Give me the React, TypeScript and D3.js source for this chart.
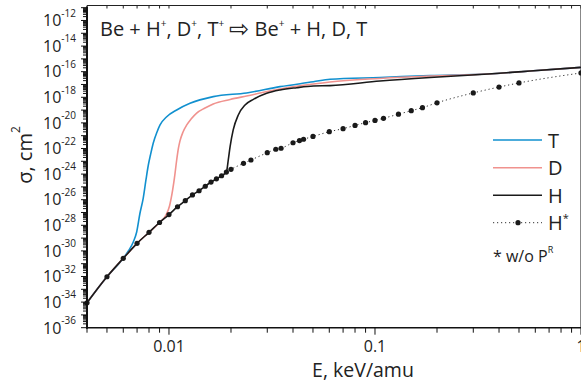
import * as d3 from 'd3'

// H* (without P^R): energies in keV/amu, log10 of cross section in cm^2
const E_HSTAR = [0.004, 0.005, 0.006, 0.007, 0.008, 0.009, 0.01, 0.011, 0.012, 0.013, 0.014, 0.015, 0.016, 0.017, 0.018, 0.019, 0.02, 0.023, 0.025, 0.03, 0.033, 0.035, 0.04, 0.043, 0.045, 0.05, 0.06, 0.07, 0.08, 0.09, 0.1, 0.11, 0.13, 0.15, 0.17, 0.2, 0.3, 0.4, 0.5, 1]
const LOG_HSTAR = [-34.05, -32.02, -30.58, -29.41, -28.55, -27.78, -27.16, -26.55, -26.08, -25.63, -25.3, -24.95, -24.62, -24.37, -24.13, -23.84, -23.63, -23.16, -22.9, -22.33, -22.06, -21.98, -21.55, -21.38, -21.28, -21.06, -20.69, -20.45, -20.2, -19.98, -19.81, -19.64, -19.32, -19.05, -18.81, -18.43, -17.66, -17.2, -16.88, -16.1]

// parts where T, D, H leave the H* curve
const E_T = [0.00635, 0.00671, 0.00697, 0.00723, 0.0075, 0.00773, 0.00794, 0.00813, 0.00839, 0.00875, 0.00905, 0.00975, 0.0109, 0.01265, 0.0164, 0.0238, 0.0346, 0.0502, 0.0605, 0.1057, 0.185, 0.354, 0.566, 1]
const LOG_T = [-30.01, -29.3, -28.52, -27.06, -25.87, -24.46, -23.29, -22.51, -21.57, -20.71, -20.16, -19.52, -18.99, -18.47, -17.95, -17.66, -17.17, -16.79, -16.59, -16.45, -16.3, -16.18, -15.95, -15.66]
const E_D = [0.00967, 0.01006, 0.01042, 0.01063, 0.0109, 0.01112, 0.01131, 0.0117, 0.0122, 0.0128, 0.01363, 0.01496, 0.0164, 0.0198, 0.0238, 0.0346, 0.0502, 0.0605, 0.1057, 0.185, 0.354, 0.566, 1]
const LOG_D = [-27.2, -26.49, -25.24, -24.3, -22.9, -21.96, -21.41, -20.71, -20.16, -19.7, -19.23, -18.84, -18.52, -18.17, -17.9, -17.35, -16.96, -16.8, -16.53, -16.34, -16.18, -15.95, -15.66]
const E_H = [0.0194, 0.0198, 0.0205, 0.0217, 0.0234, 0.0257, 0.0298, 0.0346, 0.0417, 0.0502, 0.0605, 0.1057, 0.185, 0.354, 0.566, 1]
const LOG_H = [-22.9, -21.86, -20.55, -19.38, -18.6, -18.16, -17.69, -17.43, -17.25, -17.12, -17.09, -16.73, -16.45, -16.18, -15.95, -15.66]

const Y_EXPS = [-12, -14, -16, -18, -20, -22, -24, -26, -28, -30, -32, -34, -36]
const X_TICKS = [0.01, 0.1, 1]
const X_LABELS = ['0.01', '0.1', '1']

const COLORS = { T: '#1190cf', D: '#f0928e', H: '#1a1a1a' }
const FONT = 'Open Sans, sans-serif'

type Pt = [number, number]

const join = (upTo: number, es: number[], ls: number[]): Pt[] => {
  const base: Pt[] = E_HSTAR.map((e, i) => [e, LOG_HSTAR[i]] as Pt).filter(d => d[0] <= upTo)
  return base.concat(es.map((e, i) => [e, ls[i]] as Pt))
}

export default function App() {
  const W = 581, H = 383
  const pad = { l: 87, r: 581, t: 5.5, b: 327.7 }
  const x = d3.scaleLog().domain([0.004, 1]).range([pad.l, pad.r])
  const yExp = d3.scaleLinear().domain([-36, -10.83]).range([pad.b, pad.t])

  const line = d3.line<Pt>().x(d => x(d[0])).y(d => yExp(d[1])).curve(d3.curveMonotoneX)

  const hstar: Pt[] = E_HSTAR.map((e, i) => [e, LOG_HSTAR[i]])
  const tSer = join(0.006, E_T, LOG_T)
  const dSer = join(0.009, E_D, LOG_D)
  const hSer = join(0.019, E_H, LOG_H)

  const xMinor: number[] = []
  for (let k = -3; k <= 0; k++) for (let m = 1; m <= 9; m++) {
    const v = m * Math.pow(10, k)
    if (v >= 0.004 - 1e-9 && v <= 1 + 1e-9) xMinor.push(v)
  }
  const yMinor: number[] = []
  for (let k = -36; k <= -11; k++) for (let m = 1; m <= 9; m++) {
    const v = k + Math.log10(m)
    if (v <= -10.83) yMinor.push(v)
  }

  const lg = { x1: 493, x2: 542, tx: 548 }
  const legendRows = [
    { key: 'T', y: 140, color: COLORS.T },
    { key: 'D', y: 167.7, color: COLORS.D },
    { key: 'H', y: 195.3, color: COLORS.H },
  ]

  return (
    <svg width={W} height={H} style={{ position: 'absolute', left: 0, top: 0, background: '#fff' }} fontFamily={FONT}>
      {/* frame */}
      <line x1={pad.l} x2={pad.r} y1={pad.t} y2={pad.t} stroke="#222" strokeWidth={1} />
      <line x1={pad.r - 0.5} x2={pad.r - 0.5} y1={pad.t} y2={pad.b} stroke="#888" strokeWidth={1} />
      {xMinor.map((v, i) => (
        <line key={'tt' + i} x1={x(v)} x2={x(v)} y1={pad.t} y2={pad.t + 3} stroke="#222" strokeWidth={1} />
      ))}

      {/* H* dotted */}
      <path d={line(hstar) ?? ''} fill="none" stroke="#333" strokeWidth={1} strokeDasharray="1.2,2.8" />

      <path d={line(tSer) ?? ''} fill="none" stroke={COLORS.T} strokeWidth={1.6} />
      <path d={line(dSer) ?? ''} fill="none" stroke={COLORS.D} strokeWidth={1.6} />
      <path d={line(hSer) ?? ''} fill="none" stroke={COLORS.H} strokeWidth={1.6} />

      {hstar.map((d, i) => (
        <circle key={'c' + i} cx={x(d[0])} cy={yExp(d[1])} r={2.6} fill="#1a1a1a" />
      ))}

      {/* y axis */}
      <line x1={pad.l} x2={pad.l} y1={pad.t + 1} y2={pad.b + 1} stroke="#111" strokeWidth={2} />
      {yMinor.map((v, i) => {
        const major = Math.abs(v - Math.round(v)) < 1e-9
        return <line key={'ym' + i} x1={pad.l - (major ? 6 : 4)} x2={pad.l} y1={yExp(v)} y2={yExp(v)} stroke="#111" strokeWidth={1} />
      })}
      {Y_EXPS.map(e => (
        <text key={'yl' + e} x={43} y={yExp(e) + 5.8} fontSize={16} fill="#222">
          10<tspan dy={-9.5} fontSize={10}>{e}</tspan>
        </text>
      ))}

      {/* x axis */}
      <line x1={pad.l - 1} x2={pad.r} y1={pad.b} y2={pad.b} stroke="#111" strokeWidth={1.5} />
      {xMinor.map((v, i) => {
        const major = X_TICKS.some(t => Math.abs(t - v) < 1e-9)
        return <line key={'xm' + i} x1={x(v)} x2={x(v)} y1={pad.b} y2={pad.b + (major ? 7 : 5)} stroke="#111" strokeWidth={1} />
      })}
      {X_TICKS.map((t, i) => (
        <text key={'xl' + i} x={x(t)} y={351.7} fontSize={16} fill="#222" textAnchor="middle">{X_LABELS[i]}</text>
      ))}

      {/* axis titles */}
      <text x={363} y={377} fontSize={19.5} fill="#222" textAnchor="middle">E, keV/amu</text>
      <text transform="translate(32,155) rotate(-90)" fontSize={20} fill="#222" textAnchor="middle">
        σ, cm<tspan dy={-12} fontSize={12}>2</tspan>
      </text>

      {/* title */}
      <text x={100} y={36} fontSize={20} fill="#222">
        Be + H<tspan dy={-9} fontSize={10}>+</tspan>
        <tspan dy={9}>, D</tspan><tspan dy={-9} fontSize={10}>+</tspan>
        <tspan dy={9}>, T</tspan><tspan dy={-9} fontSize={10}>+</tspan>
        <tspan dy={9}> </tspan><tspan fontSize={24} dy={1}>⇨</tspan>
        <tspan dy={-1}> Be</tspan><tspan dy={-9} fontSize={10}>+</tspan>
        <tspan dy={9}> + H, D, T</tspan>
      </text>

      {/* legend */}
      {legendRows.map(r => (
        <g key={r.key}>
          <line x1={lg.x1} x2={lg.x2} y1={r.y} y2={r.y} stroke={r.color} strokeWidth={1.6} />
          <text x={lg.tx} y={r.y + 7.5} fontSize={20} fill="#222">{r.key}</text>
        </g>
      ))}
      <line x1={lg.x1} x2={lg.x2} y1={222.7} y2={222.7} stroke="#333" strokeWidth={1} strokeDasharray="1.2,2.8" />
      <circle cx={518} cy={222.7} r={2.6} fill="#1a1a1a" />
      <text x={lg.tx} y={230.2} fontSize={20} fill="#222">H<tspan dy={-8} fontSize={11}>*</tspan></text>
      <text x={493} y={261.5} fontSize={16} fill="#222">* w/o P<tspan dy={-9} fontSize={9}>R</tspan></text>
    </svg>
  )
}
